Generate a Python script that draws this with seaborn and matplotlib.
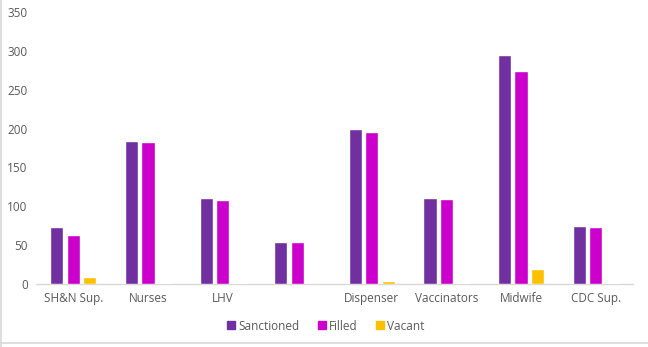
import matplotlib
matplotlib.use("Agg")
import matplotlib.pyplot as plt
import seaborn as sns
import pandas as pd
from matplotlib.lines import Line2D

categories = ["SH&N Sup.", "Nurses", "LHV", " ", "Dispenser", "Vaccinators", "Midwife", "CDC Sup."]
sanctioned = [73, 184, 111, 54, 200, 111, 295, 75]
filled = [63, 183, 108, 54, 195, 109, 274, 73]
vacant = [9, 1, 1, 0, 4, 1, 19, 1]
series = ["Sanctioned", "Filled", "Vacant"]
colors = ["#7030A0", "#CC00CC", "#FFC000"]
yticks = [0, 50, 100, 150, 200, 250, 300, 350]

rows = []
for s, vals in zip(series, [sanctioned, filled, vacant]):
    for c, v in zip(categories, vals):
        rows.append({"Category": c, "Series": s, "Value": v})
df = pd.DataFrame(rows)

sns.set_theme(style="white")
plt.rcParams["font.family"] = ["Open Sans", "DejaVu Sans"]

fig = plt.figure(figsize=(6.48, 3.47), dpi=100)
ax = fig.add_axes([36/648, (347-284)/347, (633-36)/648, (284-12)/347])
sns.barplot(data=df, x="Category", y="Value", hue="Series", order=categories,
            hue_order=series, palette=colors, width=0.66, gap=0.2,
            saturation=1, ax=ax, legend=False)
for p in ax.patches:
    p.set_zorder(3)

ax.set_ylim(0, 350)
ax.set_xlim(-0.5, len(categories) - 0.5)
ax.set_yticks(yticks)
ax.set_xlabel("")
ax.set_ylabel("")
for sp in ["top", "right", "left"]:
    ax.spines[sp].set_visible(False)
ax.spines["bottom"].set_color("#D9D9D9")
ax.spines["bottom"].set_linewidth(1)
ax.spines["bottom"].set_zorder(1)
ax.tick_params(axis="both", length=0, colors="#595959", labelsize=8.5)
ax.tick_params(axis="y", pad=6)
ax.tick_params(axis="x", pad=6)

handles = [Line2D([0], [0], marker="s", linestyle="", markersize=5.5,
                  markerfacecolor=c, markeredgecolor=c) for c in colors]
leg = fig.legend(handles, series, loc="center", bbox_to_anchor=(325/648, 1 - 326/347),
                 ncol=3, frameon=False, fontsize=8.5, handletextpad=0.1,
                 columnspacing=1.4, handlelength=1.0)
for t in leg.get_texts():
    t.set_color("#595959")

# chart border
fig.add_artist(Line2D([0.5/648, 0.5/648], [0, 1], color="#D9D9D9", lw=1.2, transform=fig.transFigure))
fig.add_artist(Line2D([0, 1], [1 - 343/347, 1 - 343/347], color="#D9D9D9", lw=1.2, transform=fig.transFigure))

fig.savefig("out.png", dpi=100)
